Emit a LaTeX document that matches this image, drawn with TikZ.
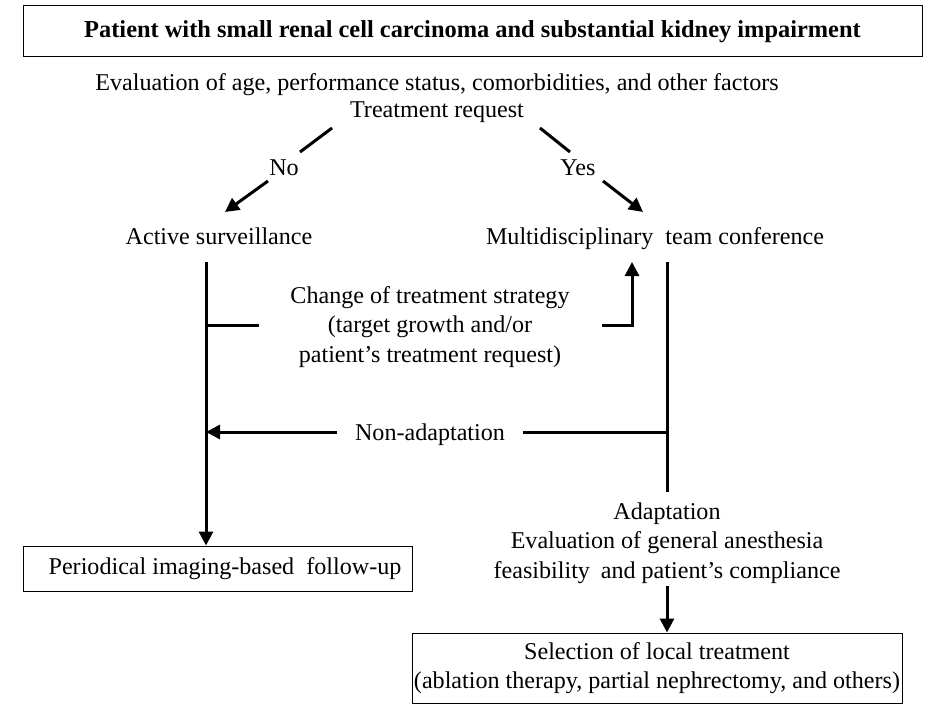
\documentclass[tikz,border=0pt]{standalone}
\usepackage{fontspec}
\setmainfont{Liberation Serif}
\usetikzlibrary{arrows.meta}
\begin{document}
\begin{tikzpicture}[x=1pt,y=-1pt,
  txt/.style={font=\fontsize{24.1}{29.5}\selectfont, align=center, inner sep=0pt},
  boxed/.style={draw, line width=1pt, txt},
  conn/.style={line width=3pt},
  arr/.style={conn, -{Triangle[length=14pt,width=14pt]}}]
\useasboundingbox (0,0) rectangle (944,717);
\fill[white] (0,0) rectangle (944,717);
% boxes
\node[boxed, minimum width=899pt, minimum height=51pt, font=\fontsize{24.4}{29.5}\selectfont\bfseries] (title) at (472.5,31.5) {Patient with small renal cell carcinoma and substantial kidney impairment};
\node[boxed, minimum width=389pt, minimum height=45pt] (follow) at (217.5,568.5) {\hspace{15pt}Periodical imaging-based\hspace{0.25em} follow-up};
\node[boxed, minimum width=490pt, minimum height=70pt] (local) at (657,668) {Selection of local treatment\\(ablation therapy, partial nephrectomy, and others)};
% texts
\node[txt] (eval) at (437,85) {Evaluation of age, performance status, comorbidities, and other factors};
\node[txt] (treat) at (437,112) {Treatment request};
\node[txt] (no) at (284,168) {No};
\node[txt] (yes) at (578,168) {Yes};
\node[txt] (active) at (219,236) {Active surveillance};
\node[txt] (mdt) at (655,239) {Multidisciplinary\hspace{0.25em} team conference};
\node[txt] (change) at (430,327) {Change of treatment strategy\\(target growth and/or\\patient's treatment request)};
\node[txt] (nonad) at (430,435) {Non-adaptation};
\node[txt] (adapt) at (667,543) {Adaptation\\Evaluation of general anesthesia\\feasibility\hspace{0.2em} and patient's compliance};
% coordinates
\coordinate (nA) at (332,128);
\coordinate (nB) at (300,152);
\coordinate (nC) at (268,181);
\coordinate (nD) at (225,212);
\coordinate (yA) at (540,128);
\coordinate (yB) at (570,152);
\coordinate (yC) at (603,181);
\coordinate (yD) at (643,212);
\coordinate (lTop) at (206,262);
\coordinate (rTop) at (667,262);
\coordinate (rBot) at (667,492);
\coordinate (cL1) at (206,325);
\coordinate (cL2) at (259,325);
\coordinate (cR1) at (602,325);
\coordinate (cR2) at (632,262);
\coordinate (naR) at (667,432);
\coordinate (naR2) at (523,432);
\coordinate (naL2) at (337,432);
\coordinate (naL) at (206,432);
\coordinate (aTop) at (667,586);
% connectors
\draw[conn] (nA) -- (nB);
\draw[arr] (nC) -- (nD);
\draw[conn] (yA) -- (yB);
\draw[arr] (yC) -- (yD);
\draw[arr] (lTop) -- (lTop |- follow.north);
\draw[conn] (rTop) -- (rBot);
\draw[conn] (cL1) -- (cL2);
\draw[arr] (cR1) -| (cR2);
\draw[conn] (naR) -- (naR2);
\draw[arr] (naL2) -- (naL);
\draw[arr] (aTop) -- (aTop |- local.north);
\end{tikzpicture}
\end{document}
